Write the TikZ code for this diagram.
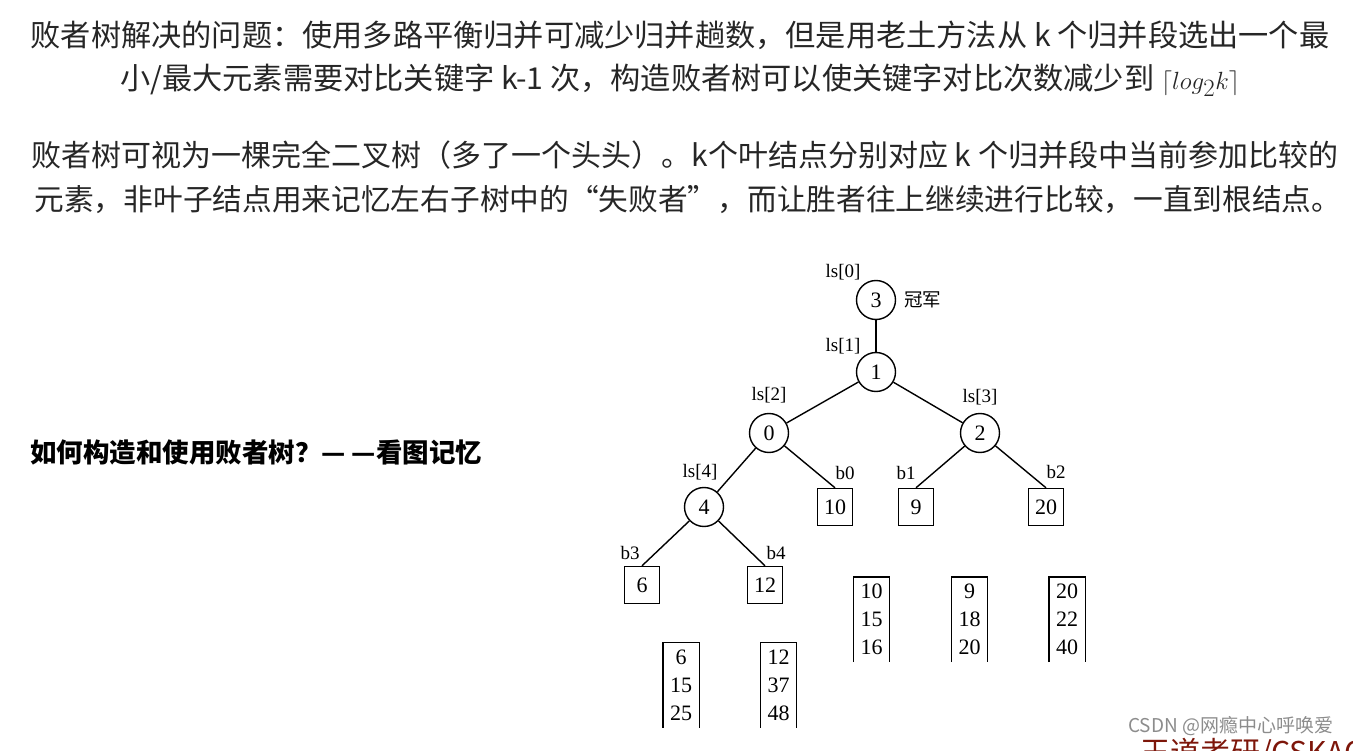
\documentclass[tikz,border=0pt]{standalone}
\usepackage{fontspec}
\setmainfont{Liberation Serif}
\newfontfamily\cjk{Noto Sans CJK SC}
\usetikzlibrary{positioning}
\definecolor{wdRed}{RGB}{125,22,10}

\begin{document}
\begin{tikzpicture}[x=1pt, y=-1pt,
    para/.style={font=\cjk\fontsize{30.2}{34}\selectfont, inner sep=0pt, text=black!85},
    title/.style={font=\cjk\bfseries\fontsize{26.5}{30}\selectfont, inner sep=0pt},
    loser/.style={circle, draw, line width=1.4pt, minimum size=39pt, inner sep=0pt, font=\fontsize{22}{22}\selectfont},
    leaf/.style={rectangle, draw, line width=1.4pt, minimum width=35pt, minimum height=37pt, inner sep=0pt, font=\fontsize{22}{22}\selectfont},
    tag/.style={font=\fontsize{19}{19}\selectfont, inner sep=0pt},
    run/.style={minimum width=36pt, minimum height=85pt, inner sep=0pt, align=center, font=\fontsize{22}{28}\selectfont},
    branch/.style={line width=1.4pt},
    wmark/.style={font=\cjk\fontsize{19}{19}\selectfont, text=black!45, inner sep=0pt}
  ]
  \useasboundingbox (0,0) rectangle (1353,751);

  % explanation text
  \node[para] (line1) at (680,35) {败者树解决的问题：使用多路平衡归并可减少归并趟数，但是用老土方法从 k 个归并段选出一个最};
  \node[para] (line2) at (680,80) {小/最大元素需要对比关键字 k-1 次，构造败者树可以使关键字对比次数减少到 {\fontsize{33}{34}\selectfont$\lceil log_2k\rceil$}};
  \node[para, font=\cjk\fontsize{30}{34}\selectfont] (line3) at (685,155) {败者树可视为一棵完全二叉树（多了一个头头）。\textit{k}个叶结点分别对应 k 个归并段中当前参加比较的};
  \node[para, font=\cjk\fontsize{29.7}{34}\selectfont] (line4) at (688,200) {元素，非叶子结点用来记忆左右子树中的“失败者”，而让胜者往上继续进行比较，一直到根结点。};
  \node[title, anchor=west] (howto) at (30,452) {如何构造和使用败者树？— —看图记忆};

  % loser tree
  \node[loser] (n3) at (876,300) {3};
  \node[loser] (n1) at (876,372) {1};
  \node[loser] (n0) at (769,433) {0};
  \node[loser] (n2) at (980,433) {2};
  \node[loser] (n4) at (704,507) {4};
  \node[leaf] (b0) at (835,507) {10};
  \node[leaf] (b1) at (916,507) {9};
  \node[leaf] (b2) at (1046,507) {20};
  \node[leaf] (b3) at (642,585) {6};
  \node[leaf] (b4) at (765,585) {12};

  \node[tag] (ls0) at (843,272) {ls[0]};
  \node[tag] (ls1) at (843,346) {ls[1]};
  \node[tag] (ls2) at (769,395) {ls[2]};
  \node[tag] (ls3) at (980,397) {ls[3]};
  \node[tag] (ls4) at (700,472) {ls[4]};
  \node[tag] (tb0) at (845,473) {b0};
  \node[tag] (tb1) at (906,473) {b1};
  \node[tag] (tb2) at (1056,472) {b2};
  \node[tag] (tb3) at (630,553) {b3};
  \node[tag] (tb4) at (776,553) {b4};
  \node[font=\cjk\fontsize{18.5}{18}\selectfont, inner sep=0pt, right=8pt of n3] (champ) {冠军};

  \draw[branch] (n3) -- (n1);
  \draw[branch] (n1) -- (n0);
  \draw[branch] (n1) -- (n2);
  \draw[branch] (n0) -- (n4);
  \draw[branch] (n0) -- (b0.north);
  \draw[branch] (n2) -- (b1.north);
  \draw[branch] (n2) -- (b2.north);
  \draw[branch] (n4) -- (b3.north);
  \draw[branch] (n4) -- (b4.north);

  % merge runs
  \node[run] (r0) at (871.5,619.5) {10\\15\\16};
  \node[run] (r1) at (969.5,619.5) {9\\18\\20};
  \node[run] (r2) at (1067,619.5) {20\\22\\40};
  \node[run] (r3) at (681,685) {6\\15\\25};
  \node[run] (r4) at (778.5,685) {12\\37\\48};
  \foreach \r in {r0,r1,r2,r3,r4}
    \draw[branch] (\r.south west) -- (\r.north west) -- (\r.north east) -- (\r.south east);

  % watermarks
  \node[wmark, anchor=west] (csdn) at (1128,726) {CSDN @网瘾中心呼唤爱};
  \begin{scope}
    \clip (0,0) rectangle (1353,751);
    \node[font=\cjk\fontsize{30}{30}\selectfont, text=wdRed, inner sep=0pt, anchor=west] (wd) at (1140,754) {王道考研/CSKAO};
  \end{scope}
\end{tikzpicture}
\end{document}
